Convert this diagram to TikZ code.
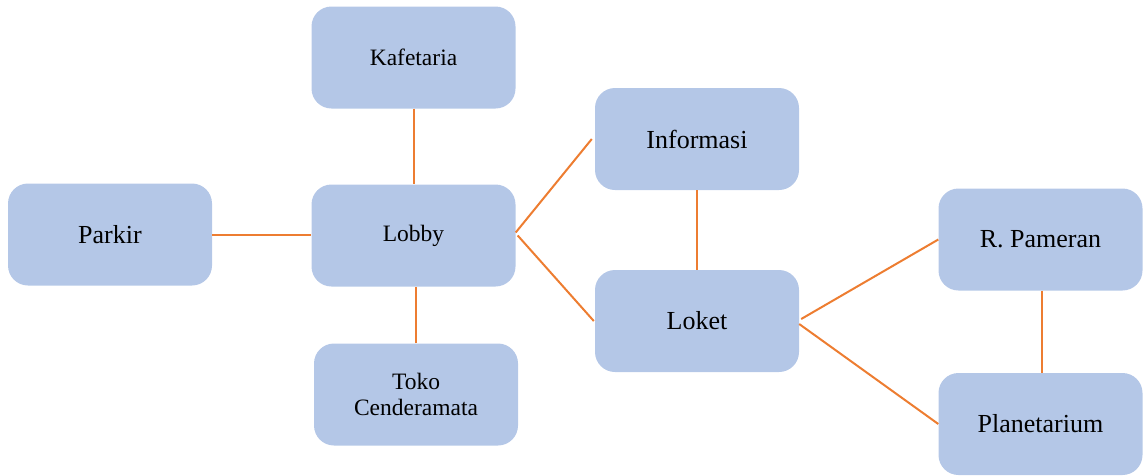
\documentclass[tikz,border=0pt]{standalone}
\usepackage{fontspec}
\setmainfont{Liberation Serif}
\definecolor{boxblue}{HTML}{B4C7E7}
\definecolor{linkorange}{HTML}{ED7D31}
\tikzset{
  room/.style={fill=boxblue, draw=none, rounded corners=20pt, minimum width=204pt, minimum height=102pt, inner sep=0pt, align=center, text=black},
  small/.style={room, font=\fontsize{23.5}{26}\selectfont},
  big/.style={room, font=\fontsize{26}{30}\selectfont},
  link/.style={draw=linkorange, line width=2pt}
}
\begin{document}
\begin{tikzpicture}[x=1pt,y=-1pt]
\useasboundingbox (0,0) rectangle (1144,475);
\node[small] (kaf) at (413.5,57.5) {Kafetaria};
\node[big] (parkir) at (110,234.5) {Parkir};
\node[small] (lobby) at (413.5,235.5) {Lobby};
\node[small] (toko) at (416,394.5) {Toko\\Cenderamata};
\node[big] (info) at (697,139) {Informasi};
\node[big] (loket) at (697,321) {Loket};
\node[big] (pameran) at (1040.5,239.5) {R. Pameran};
\node[big] (planet) at (1040.5,424) {Planetarium};
\draw[link] (kaf.south) -- (lobby.north);
\draw[link] (parkir.east) -- (lobby.west |- parkir.east);
\draw[link] (toko.north) -- (toko.north |- lobby.south);
\draw[link] ([yshift=3pt]lobby.east) -- ([xshift=-3pt]info.west);
\draw[link] ([xshift=2pt]lobby.east) -- ([xshift=-1pt]loket.west);
\draw[link] (info.south) -- (loket.north);
\draw[link] ([xshift=2pt,yshift=2pt]loket.east) -- (pameran.west);
\draw[link] ([yshift=-3pt]loket.east) -- (planet.west);
\draw[link] ([xshift=1.5pt]pameran.south) -- ([xshift=1.5pt]planet.north);
\end{tikzpicture}
\end{document}
